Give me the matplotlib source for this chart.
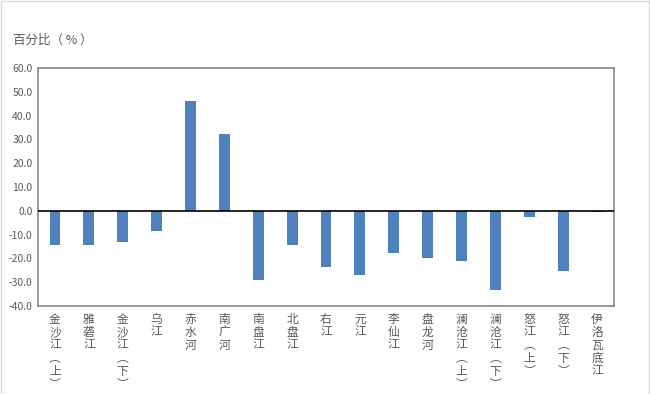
import numpy as np
import matplotlib
matplotlib.use('Agg')
import matplotlib.pyplot as plt
import matplotlib.transforms as mtransforms

plt.rcParams['font.family'] = ['Noto Sans CJK SC', 'DejaVu Sans']

rivers = ['金沙江（上）', '雅砻江', '金沙江（下）', '乌江', '赤水河', '南广河', '南盘江', '北盘江',
          '右江', '元江', '李仙江', '盘龙河', '澜沧江（上）', '澜沧江（下）', '怒江（上）', '怒江（下）', '伊洛瓦底江']
values = [-14.3, -14.3, -13.3, -8.3, 46.2, 32.4, -29.2, -14.4,
          -23.7, -27.0, -17.8, -19.9, -21.3, -33.1, -2.7, -25.4, -0.6]
yticks = np.arange(-40, 61, 10)

fig = plt.figure(figsize=(6.5, 3.94), dpi=100)
ax = fig.add_axes([0.0585, 0.2234, 0.8861, 0.604])

x = np.arange(len(rivers))
ax.bar(x, values, width=0.32, color='#4f81bd', zorder=2)
ax.axhline(0, color='black', lw=1.2, zorder=3)

ax.set_xlim(-0.5, len(rivers) - 0.5)
ax.set_ylim(-40, 60)
ax.set_yticks(yticks)
ax.set_yticklabels(['{:.1f}'.format(v) for v in yticks], fontsize=7.5, color='#595959')
ax.tick_params(axis='y', length=0, pad=4)
ax.set_xticks([])
for s in ax.spines.values():
    s.set_color('#868686')
    s.set_linewidth(1.2)

# vertical category labels, one character per line
trans = mtransforms.blended_transform_factory(ax.transData, ax.transAxes)
for i, name in enumerate(rivers):
    txt = name.replace('（', '︵').replace('）', '︶')
    ax.text(i, -0.028, '\n'.join(txt), transform=trans, ha='center', va='top',
            fontsize=8.5, color='#595959', linespacing=1.0)

fig.text(13 / 650, 1 - 40 / 394, '百分比（ % ）', fontsize=9, color='#595959', va='center', ha='left')

# outer chart border
fig.patches.append(plt.Rectangle((0.001, 0.001), 0.997, 0.997, transform=fig.transFigure,
                                 fill=False, edgecolor='#d9d9d9', lw=1))

fig.savefig('out.png', dpi=100)
